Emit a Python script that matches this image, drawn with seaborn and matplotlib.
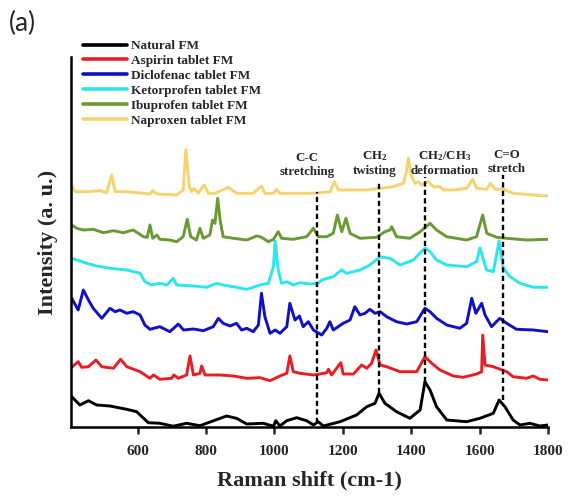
import pandas as pd
import matplotlib
matplotlib.use("Agg")
import matplotlib.pyplot as plt
import seaborn as sns

# ---- spectra (Raman shift in cm-1, stacked intensity in a.u.) ----
series_names = ["Natural FM", "Aspirin tablet FM", "Diclofenac tablet FM",
                "Ketorprofen tablet FM", "Ibuprofen tablet FM", "Naproxen tablet FM"]
series_colors = ["#000000", "#ea1c24", "#1010c8", "#2ae6ee", "#6a9a32", "#f6d36c"]

natural_shift = [407, 431, 456, 480, 519, 568, 597, 631, 665, 704, 743, 782, 860, 889, 919,
                 967, 997, 1004, 1016, 1036, 1065, 1094, 1114, 1128, 1143, 1192, 1240, 1270,
                 1294, 1306, 1323, 1357, 1396, 1426, 1440, 1455, 1474, 1504, 1562, 1601, 1640,
                 1657, 1674, 1698, 1718, 1747, 1776, 1800]
natural_int = [30.3, 22, 26.3, 22, 21, 17.7, 15.3, 4.3, 3.7, 0.8, 3.7, 1.3, 11, 8.7, 3,
               3.7, 0.8, 6.3, 1, 6.3, 9.3, 6.3, 2, 5.3, 1, 5.3, 12, 20.3,
               23.7, 33.7, 23.7, 15.3, 8.7, 17, 45.3, 37, 20.3, 7, 5.3, 8.7, 13.7,
               27, 20.3, 7, 2, 3.7, 1, 2]

aspirin_shift = [407, 426, 436, 456, 478, 495, 529, 550, 568, 607, 636, 646, 665, 699, 706,
                 719, 743, 753, 763, 782, 787, 797, 841, 880, 919, 958, 987, 1016, 1036, 1045,
                 1055, 1075, 1114, 1133, 1153, 1158, 1167, 1194, 1201, 1231, 1255, 1270, 1284,
                 1297, 1309, 1328, 1367, 1416, 1440, 1460, 1484, 1523, 1552, 1591, 1606, 1609,
                 1616, 1640, 1679, 1698, 1737, 1757, 1776, 1800]
aspirin_int = [59.7, 65.3, 59.7, 60.3, 67, 60.3, 58.7, 67.7, 60.3, 55.3, 48.7, 52, 47.7, 48.7, 52,
               48.7, 52, 71, 52, 53.7, 61, 52, 52, 51, 48.7, 49.3, 46.3, 51, 53.7, 71,
               55.3, 53.7, 52, 53, 54.3, 57.7, 52, 64.3, 53, 53, 62, 58.7, 63.7,
               77, 62, 60.3, 55.3, 55.3, 70.3, 63.7, 57, 51, 49.7, 53, 55.3, 92,
               62, 60.3, 55.3, 50.3, 48.7, 51, 47.7, 47]

diclofenac_shift = [407, 426, 441, 456, 470, 495, 519, 534, 548, 568, 587, 607, 621, 636, 665,
                    694, 719, 734, 763, 792, 821, 836, 850, 870, 889, 904, 919, 938, 953, 962,
                    972, 987, 1002, 1016, 1036, 1045, 1060, 1073, 1084, 1099, 1114, 1138, 1153,
                    1162, 1172, 1201, 1221, 1235, 1250, 1265, 1279, 1294, 1309, 1328, 1357, 1387,
                    1416, 1440, 1455, 1474, 1504, 1542, 1562, 1577, 1589, 1606, 1616, 1635, 1659,
                    1679, 1708, 1757, 1800]
diclofenac_int = [128.7, 117, 137, 127, 118.7, 108.7, 118.7, 115.3, 117, 113.7, 115.3, 112, 102, 97.7, 100.3,
                  95.3, 103, 97, 98, 96.3, 100.3, 108.7, 103.7, 101, 103.7, 97, 98.7, 95.3, 102, 133.7,
                  110.3, 93.7, 97, 93.7, 100.3, 123.7, 107, 111, 100.3, 105.3, 97, 92, 98.7,
                  105.3, 97, 103.7, 107, 120.3, 112, 113.7, 117.7, 113.7, 115.3, 110.3, 105.3, 103,
                  105.3, 118.7, 115.3, 108.7, 102, 98.7, 103.7, 128.7, 113.7, 123.7, 112, 100.3, 108.7,
                  103.7, 97.7, 97, 95.3]

ketoprofen_shift = [407, 451, 480, 519, 568, 607, 621, 641, 665, 685, 704, 714, 763, 802, 831,
                    850, 889, 919, 958, 982, 997, 1002, 1011, 1021, 1036, 1055, 1075, 1104, 1128,
                    1138, 1172, 1196, 1211, 1250, 1279, 1309, 1338, 1367, 1406, 1440, 1455, 1474,
                    1504, 1562, 1591, 1601, 1620, 1640, 1657, 1669, 1689, 1718, 1757, 1800]
ketoprofen_int = [168.7, 163.7, 161, 158.7, 157, 153.7, 145.3, 142, 143.7, 142, 148.7, 142, 141, 139.7, 143.7,
                  142, 139.7, 137.7, 142, 143.7, 160.3, 186, 157, 143.7, 145.3, 142, 144.3, 143, 143.7,
                  147, 150.3, 157, 153.7, 157, 162, 170.3, 168.7, 162, 167, 179, 175.3, 167,
                  162, 160.3, 165.3, 179, 157, 155.3, 186, 158.7, 150.3, 143.7, 139.7, 139.7]

ibuprofen_shift = [407, 422, 441, 470, 500, 529, 558, 587, 617, 628, 636, 644, 656, 665, 694,
                   714, 733, 745, 755, 772, 782, 792, 811, 819, 826, 834, 841, 850, 880, 919,
                   948, 958, 967, 982, 997, 1011, 1021, 1055, 1094, 1114, 1128, 1153, 1172, 1184,
                   1197, 1209, 1221, 1250, 1299, 1323, 1338, 1343, 1357, 1396, 1426, 1455, 1474,
                   1504, 1562, 1591, 1609, 1621, 1650, 1679, 1738, 1800]
ibuprofen_int = [202, 198.7, 197, 197.7, 194.3, 196.3, 194.3, 197, 190.3, 189.7, 202, 188.7, 192, 187.7, 187,
                 185.3, 190.3, 207.7, 190.3, 187, 198.7, 188.7, 192, 207, 203.7, 228.7, 207, 190.3, 188.7, 187,
                 191, 190.3, 188.7, 185.3, 187.7, 195.3, 188.7, 187.7, 190.3, 198.7, 190.3, 190.3, 193.7, 212,
                 195.3, 208.7, 193.7, 188.7, 189.7, 195.3, 197, 200.3, 190.3, 188.7, 195.3, 203.7, 197,
                 190.3, 187, 190.3, 212, 193.7, 189.7, 188.7, 187, 187.7]

naproxen_shift = [407, 417, 451, 490, 509, 524, 534, 568, 617, 636, 644, 656, 714, 733, 741,
                  751, 758, 765, 777, 794, 807, 826, 865, 889, 938, 962, 972, 997, 1006, 1016,
                  1055, 1114, 1163, 1175, 1187, 1221, 1270, 1309, 1348, 1377, 1385, 1392, 1401,
                  1411, 1421, 1430, 1450, 1465, 1484, 1494, 1523, 1562, 1580, 1591, 1621, 1632,
                  1645, 1669, 1699, 1757, 1800]
naproxen_int = [242, 235.3, 235.3, 236.3, 234.3, 252, 235.3, 235.3, 233.7, 233, 236.3, 233, 232, 237, 277,
                240.3, 235.3, 238.7, 233.7, 242, 233.7, 233.7, 239.7, 233.7, 233.7, 241, 233.7, 233.7, 237.7, 233.7,
                233.7, 233.7, 235.3, 245.3, 237, 237, 237, 238.7, 240.3, 243.7, 253.7, 268.7, 250.3,
                243.7, 245.3, 242, 245.3, 240.3, 240.3, 237, 237, 238.7, 247.7, 238.7, 237.7, 243.7,
                237.7, 237.7, 233.7, 232, 231]

# ---- band assignments ----
band_text = ["C-C\nstretching", "CH$_2$\ntwisting", "CH$_2$/CH$_3$\ndeformation", "C=O\nstretch"]
band_shift = [1125, 1306, 1440, 1667]
band_low = [4, 34, 45, 27]
band_high = [235, 245, 250, 252]
band_text_x = [1096, 1294, 1498, 1679]
band_text_y = [262, 264, 264, 265]

xtick_values = [600, 800, 1000, 1200, 1400, 1600, 1800]

shifts = [natural_shift, aspirin_shift, diclofenac_shift, ketoprofen_shift,
          ibuprofen_shift, naproxen_shift]
intensities = [natural_int, aspirin_int, diclofenac_int, ketoprofen_int,
               ibuprofen_int, naproxen_int]

frames = []
for name, xs, ys in zip(series_names, shifts, intensities):
    frames.append(pd.DataFrame({"shift": xs, "intensity": ys, "sample": name}))
data = pd.concat(frames, ignore_index=True)

sns.set_style("ticks")
plt.rcParams["font.family"] = ["Liberation Serif", "DejaVu Serif"]
plt.rcParams["font.weight"] = "bold"
plt.rcParams["mathtext.default"] = "regular"

W, H = 568, 498
fig = plt.figure(figsize=(W / 100, H / 100), dpi=100)
ax = fig.add_axes([71 / W, 71 / H, 477 / W, 370 / H])

sns.lineplot(data=data, x="shift", y="intensity", hue="sample",
             hue_order=series_names, palette=series_colors,
             estimator=None, sort=True, linewidth=2.1, ax=ax)
for line in ax.get_lines():
    line.set_solid_joinstyle("round")
    line.set_solid_capstyle("round")

for x, lo, hi in zip(band_shift, band_low, band_high):
    ax.plot([x, x], [lo, hi], color="black", linewidth=1.7,
            linestyle=(0, (2.2, 1.4)), zorder=5)

for txt, tx, ty in zip(band_text, band_text_x, band_text_y):
    ax.text(tx, ty, txt, ha="center", va="center", fontsize=9.3,
            fontweight="bold", linespacing=1.15)

ax.set_xlim(405, 1800)
ax.set_ylim(0, 370)
ax.set_xticks(xtick_values)
ax.set_xticklabels([str(v) for v in xtick_values], fontsize=11, fontweight="bold")
ax.set_yticks([])
ax.tick_params(axis="x", direction="out", length=5, width=1.8, pad=8)
for side in ("top", "right"):
    ax.spines[side].set_visible(False)
for side in ("left", "bottom"):
    ax.spines[side].set_linewidth(1.8)
    ax.spines[side].set_color("black")

ax.set_xlabel("Raman shift (cm-1)", fontsize=16, fontweight="bold", labelpad=9)
ax.set_ylabel("Intensity (a. u.)", fontsize=16, fontweight="bold", labelpad=9)

handles, labels = ax.get_legend_handles_labels()
if ax.legend_ is not None:
    ax.legend_.remove()
leg = fig.legend(handles, labels, loc="upper left",
                 bbox_to_anchor=(83 / W, 1 - 40 / H), bbox_transform=fig.transFigure,
                 frameon=False, borderpad=0, borderaxespad=0, handlelength=3.3,
                 handletextpad=0.35, labelspacing=0.2,
                 prop={"family": "Liberation Serif", "weight": "bold", "size": 9.5})
for line in leg.get_lines():
    line.set_linewidth(2.6)

fig.text(9 / W, 1 - 23 / H, "(a)", fontsize=19, family=["Lato", "DejaVu Sans"],
         fontweight="normal", ha="left", va="center")

fig.savefig("out.png", dpi=100)
